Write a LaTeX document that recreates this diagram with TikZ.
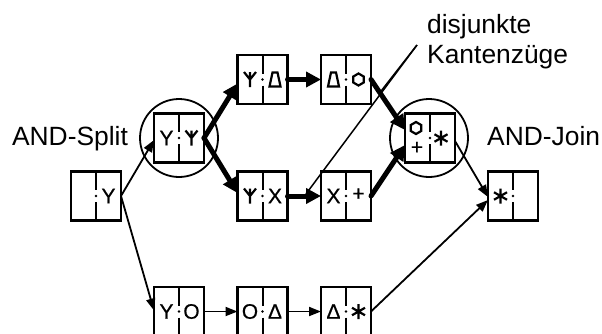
\documentclass[tikz,border=0pt]{standalone}
\usepackage{fontspec}
\setmainfont{Liberation Sans}
\newfontfamily\symfont{Liberation Sans}[FakeBold=0.6]
\usetikzlibrary{arrows.meta,calc}
\newcommand\mkdiv[1]{%
  \draw[line width=2pt] (#1.north) -- ($(#1.center)+(0,-6)$)
                        ($(#1.center)+(0,6)$) -- (#1.south);
  \fill (#1.center) circle (1.3pt);}
\begin{document}
\begin{tikzpicture}[x=1pt,y=-1pt,
  box/.style={draw,line width=2.2pt,minimum width=50pt,minimum height=49pt,inner sep=0pt,outer sep=0pt},
  ring/.style={draw,circle,line width=1.8pt,minimum size=78pt,inner sep=0pt},
  sym/.style={inner sep=0pt,font=\symfont\fontsize{21}{21}\selectfont},
  lbl/.style={inner sep=0pt,font=\fontsize{26.4}{30}\selectfont},
  thinarrow/.style={line width=1.8pt,-{Triangle[length=12pt,width=9pt]}},
  thickarrow/.style={line width=5pt,line cap=round,-{Triangle[length=15pt,width=15pt]}},
  note/.style={line width=1.5pt},
  glyph/.style={line width=2.2pt},
  algiz/.pic={\draw[glyph] (0,-7.5) -- (0,7.5) (-6,-7.5) -- (0,0) -- (6,-7.5);},
  trap/.pic={\draw[glyph] (-2.5,-7) -- (2.5,-7) -- (5.5,7) -- (-5.5,7) -- cycle;},
  hexa/.pic={\draw[glyph] (90:6) -- (30:6) -- (-30:6) -- (-90:6) -- (-150:6) -- (150:6) -- cycle;},
  aster/.pic={\draw[glyph] (0,-7.5) -- (0,7.5) (-6.5,-3.75) -- (6.5,3.75) (-6.5,3.75) -- (6.5,-3.75);}
]
\begin{scope}
\clip (0,0) rectangle (602,333);

% boxes
\node[box] (start) at (96,196) {};
\node[box] (split) at (179,138) {};
\node[box] (t1) at (262.5,79.5) {};
\node[box] (b1) at (262.5,196) {};
\node[box] (t2) at (346,79.5) {};
\node[box] (b2) at (346,196) {};
\node[box] (join) at (430,138) {};
\node[box] (end) at (513,196) {};
\node[box] (r1) at (179,311.5) {};
\node[box] (r2) at (262.5,311.5) {};
\node[box] (r3) at (346,311.5) {};
\foreach \n in {start,split,t1,b1,t2,b2,join,end,r1,r2,r3} {\mkdiv{\n}}

% circles
\node[ring] (splitring) at (179,138) {};
\node[ring] (joinring) at (429,138) {};

% symbols
\node[sym] (start-r) at ($(start.center)+(12.5,0)$) {Y};
\node[sym] (split-l) at ($(split.center)+(-12.5,0)$) {Y};
\pic at ($(split.center)+(12.5,0)$) {algiz};
\pic at ($(t1.center)+(-12.5,0)$) {algiz};
\pic at ($(t1.center)+(12.5,0)$) {trap};
\pic at ($(b1.center)+(-12.5,0)$) {algiz};
\node[sym] (b1-r) at ($(b1.center)+(12.5,0)$) {X};
\pic at ($(t2.center)+(-12.5,0)$) {trap};
\pic at ($(t2.center)+(12.5,0)$) {hexa};
\node[sym] (b2-l) at ($(b2.center)+(-12.5,0)$) {X};
\node[sym] (b2-r) at ($(b2.center)+(12.5,-1.5)$) {+};
\pic at ($(join.center)+(-14,-10)$) {hexa};
\node[sym] (join-l) at ($(join.center)+(-13,10)$) {+};
\pic at ($(join.center)+(11,0)$) {aster};
\pic at ($(end.center)+(-12.5,0)$) {aster};
\node[sym] (r1-l) at ($(r1.center)+(-12.5,0)$) {Y};
\node[sym] (r1-r) at ($(r1.center)+(12.5,0)$) {O};
\node[sym] (r2-l) at ($(r2.center)+(-12.5,0)$) {O};
\node[sym] (r2-r) at ($(r2.center)+(12.5,0)$) {Δ};
\node[sym] (r3-l) at ($(r3.center)+(-12.5,0)$) {Δ};
\pic at ($(r3.center)+(12.5,0)$) {aster};

% labels
\node[lbl,anchor=base] (lsplit) at (70,145) {AND-Split};
\node[lbl,anchor=base west] (ljoin) at (487,145) {AND-Join};
\node[lbl,anchor=base west] (ldis) at (427,33) {disjunkte};
\node[lbl,anchor=base west] (lkan) at (427,63) {Kantenzüge};

% thick arrows
\draw[thickarrow] (split.east) -- ($(t1.west)+(0,4)$);
\draw[thickarrow] (split.east) -- ($(b1.west)+(0,-3)$);
\draw[thickarrow] (t1.east) -- (t2.west);
\draw[thickarrow] (b1.east) -- (b2.west);
\draw[thickarrow] (t2.east) -- ($(join.west)+(0,-8)$);
\draw[thickarrow] (b2.east) -- ($(join.west)+(0,7)$);

% thin arrows
\draw[thinarrow] (start.east) -- ($(split.west)+(0,2)$);
\draw[thinarrow] (start.east) -- ($(r1.west)+(0,-1)$);
\draw[thinarrow] (r1.east) -- (r2.west);
\draw[thinarrow] (r2.east) -- (r3.west);
\draw[thinarrow] ($(join.east)+(0,3)$) -- ($(end.west)+(0,1)$);
\draw[thinarrow] (r3.east) -- ($(end.west)+(0,4)$);

% annotation lines
\coordinate (ann) at (417,45);
\path (t2.east) -- ($(join.west)+(0,-8)$) coordinate[pos=0.26] (pt);
\path (b1.east) -- (b2.west) coordinate[pos=0.55] (pb);
\draw[note] (ann) -- (pt);
\draw[note] (ann) -- ($(pb)+(0,-2)$);
\end{scope}
\pgfresetboundingbox
\useasboundingbox (0,0) rectangle (602,333);
\end{tikzpicture}
\end{document}
